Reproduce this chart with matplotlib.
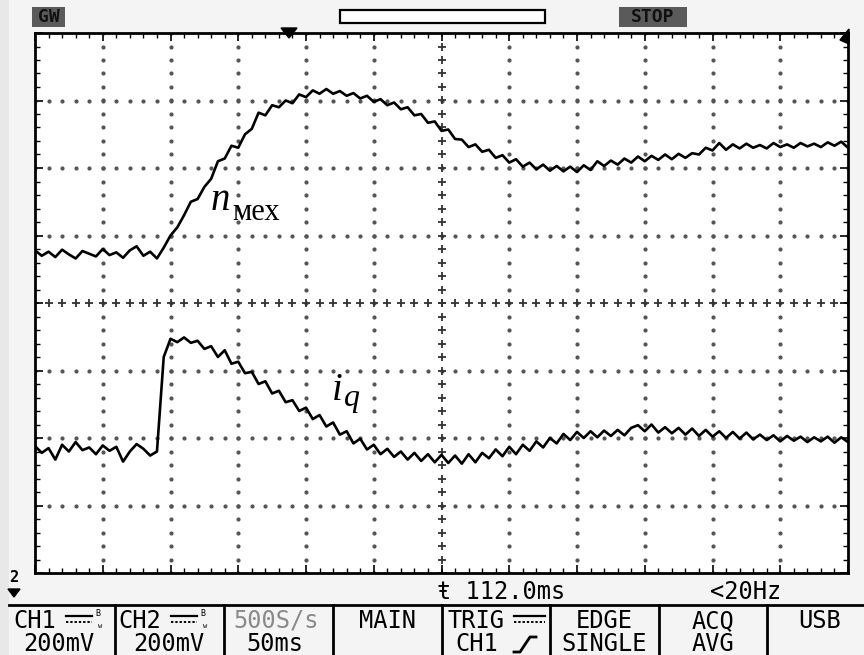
import numpy as np
import matplotlib
matplotlib.use("Agg")
import matplotlib.pyplot as plt
from matplotlib.patches import Rectangle, Polygon

# ---------------- data (divisions, 50 ms/div, 200 mV/div) ----------------
TIME_MS = np.arange(0, 605, 5)          # 121 samples, 0..600 ms

n_mex = [0.78, 0.70, 0.76, 0.68, 0.79, 0.72, 0.66, 0.77, 0.73, 0.69,
         0.80, 0.71, 0.75, 0.67, 0.78, 0.84, 0.70, 0.76, 0.66,
         0.82, 1.00, 1.12, 1.30, 1.50, 1.54, 1.72, 1.84, 2.10, 2.14, 2.33,
         2.30, 2.50, 2.58, 2.82, 2.78, 2.93, 2.90, 3.00, 2.96, 3.09,
         3.05, 3.15, 3.10, 3.17, 3.10, 3.14, 3.07, 3.11, 3.03, 3.07,
         2.98, 3.02, 2.93, 2.97, 2.87, 2.90, 2.78, 2.80, 2.67, 2.69,
         2.55, 2.57, 2.43, 2.42, 2.31, 2.35, 2.24, 2.27, 2.15, 2.19,
         2.08, 2.13, 2.02, 2.08, 1.98, 2.05, 1.96, 2.03, 1.95, 2.02,
         1.94, 2.04, 1.97, 2.10, 2.03, 2.11, 2.05, 2.14, 2.08, 2.17,
         2.10, 2.18, 2.12, 2.20, 2.13, 2.21, 2.15, 2.22, 2.20, 2.30,
         2.26, 2.37, 2.27, 2.35, 2.29, 2.36, 2.30, 2.34, 2.29, 2.37,
         2.31, 2.35, 2.30, 2.37, 2.32, 2.36, 2.31, 2.38, 2.33, 2.39,
         2.30]

i_q = [-2.12, -2.22, -2.15, -2.32, -2.10, -2.20, -2.06, -2.18, -2.14, -2.24,
       -2.11, -2.19, -2.13, -2.35, -2.20, -2.09, -2.16, -2.26, -2.20,
       -0.80, -0.53, -0.58, -0.51, -0.59, -0.56, -0.68, -0.64, -0.80, -0.70,
       -0.90, -0.87, -1.04, -1.02, -1.20, -1.16, -1.34, -1.30, -1.47, -1.44,
       -1.60, -1.55, -1.72, -1.66, -1.83, -1.77, -1.95, -1.90, -2.08, -2.01,
       -2.17, -2.10, -2.24, -2.16, -2.28, -2.20, -2.32, -2.22, -2.34, -2.24,
       -2.36, -2.25, -2.37, -2.26, -2.38, -2.24, -2.36, -2.22, -2.30, -2.17,
       -2.27, -2.13, -2.24, -2.10, -2.19, -2.05, -2.14, -2.00, -2.08, -1.94,
       -2.03, -1.91, -2.00, -1.90, -1.99, -1.89, -1.97, -1.88, -1.96, -1.85,
       -1.81, -1.90, -1.80, -1.92, -1.84, -1.93, -1.85, -1.95, -1.86, -1.97,
       -1.88, -1.98, -1.90, -2.00, -1.91, -2.01, -1.92, -2.02, -1.95, -2.03,
       -1.96, -2.05, -1.97, -2.04, -1.98, -2.06, -1.99, -2.05, -1.98, -2.07,
       -1.99, -2.06]

LABEL_N = ("n", "мех")
LABEL_I = ("i", "q")

status_row1 = ["CH1", "CH2", "500S/s", "MAIN", "TRIG", "EDGE", "ACQ", "USB"]
status_row2 = ["200mV", "200mV", "50ms", "", "CH1", "SINGLE", "AVG", ""]
time_text = "ŧ 112.0ms"
freq_text = "<20Hz"

# ---------------- figure ----------------
W, H = 864, 655
fig = plt.figure(figsize=(W / 100, H / 100), dpi=100)
fig.patch.set_facecolor("#f4f4f4")

L, R, T, B = 35, 848, 33, 573
ax = fig.add_axes([L / W, (H - B) / H, (R - L) / W, (B - T) / H])
ax.set_facecolor("white")
ax.set_xlim(0, 600)
ax.set_ylim(-4, 4)

# grid: dotted lines
gx_major = np.arange(50, 600, 50)
gy_major = np.arange(-3, 4, 1)
minor_x = np.arange(0, 600.1, 10)
minor_y = np.arange(-4, 4.01, 0.2)
dot_kw = dict(color="#555555", marker="o", markersize=2.0, linestyle="none", zorder=1)
for gx in gx_major:
    if gx == 300:
        continue
    ax.plot(np.full_like(minor_y, gx), minor_y, **dot_kw)
for gy in gy_major:
    if gy == 0:
        continue
    ax.plot(minor_x, np.full_like(minor_x, gy), **dot_kw)
# center cross lines with + marks
plus_kw = dict(color="#333333", marker="+", markersize=6, markeredgewidth=1.3,
               linestyle="none", zorder=1)
ax.plot(np.full_like(minor_y, 300), minor_y, **plus_kw)
ax.plot(minor_x, np.zeros_like(minor_x), **plus_kw)

# border ticks
ax.set_xticks(np.arange(0, 601, 50))
ax.set_xticks(minor_x, minor=True)
ax.set_yticks(np.arange(-4, 5, 1))
ax.set_yticks(minor_y, minor=True)
ax.tick_params(which="both", direction="in", top=True, right=True,
               labelbottom=False, labelleft=False, color="black")
ax.tick_params(which="major", length=6, width=1.2)
ax.tick_params(which="minor", length=3.5, width=1.0)
for s in ax.spines.values():
    s.set_linewidth(2)

# traces
ax.plot(TIME_MS, n_mex, color="black", lw=1.9, zorder=3)
ax.plot(TIME_MS, i_q, color="black", lw=1.9, zorder=3)

# ---------------- overlay in pixel coordinates ----------------
ov = fig.add_axes([0, 0, 1, 1], zorder=5)
ov.set_xlim(0, W)
ov.set_ylim(H, 0)
ov.axis("off")
ov.patch.set_alpha(0)

# left darker strip of the screen
ov.add_patch(Rectangle((0, 0), 9, H, facecolor="#e8e8e8", edgecolor="none"))

mono = "DejaVu Sans Mono"

# top bar
ov.add_patch(Rectangle((32, 7), 33, 20, facecolor="#5a5a5a", edgecolor="none"))
ov.text(48.5, 17.5, "GW", family=mono, fontsize=13, fontweight="bold",
        color="#111111", ha="center", va="center")
ov.add_patch(Rectangle((619, 7), 68, 20, facecolor="#5a5a5a", edgecolor="none"))
ov.text(653, 17.5, "STOP", family=mono, fontsize=13, fontweight="bold",
        color="#111111", ha="center", va="center")
ov.add_patch(Rectangle((340, 10), 205, 13, facecolor="white", edgecolor="black", lw=1.6))
ov.add_patch(Polygon([[281, 28], [297, 28], [289, 38]], closed=True, color="black"))
ov.add_patch(Polygon([[849, 29], [849, 44], [840, 40]], closed=True, color="black"))

# left ground marker
ov.text(14, 577, "2", family=mono, fontsize=11, fontweight="bold",
        ha="center", va="center", color="black")
ov.add_patch(Polygon([[8, 589], [20, 589], [14, 597]], closed=True, color="black"))

# time / freq line
ov.text(437, 592, time_text, family=mono, fontsize=17, ha="left", va="center", color="black")
ov.text(710, 592, freq_text, family=mono, fontsize=17, ha="left", va="center", color="black")

# status bar
ov.plot([9, W], [605, 605], color="black", lw=2)
for sx in [115, 224, 333, 442, 550, 659, 767]:
    ov.plot([sx, sx], [605, H], color="black", lw=2)

r1, r2 = 621, 644
fs = 17
ov.text(13, r1, status_row1[0], family=mono, fontsize=fs, ha="left", va="center")
ov.text(59, r2, status_row2[0], family=mono, fontsize=fs, ha="center", va="center")
ov.text(118, r1, status_row1[1], family=mono, fontsize=fs, ha="left", va="center")
ov.text(169, r2, status_row2[1], family=mono, fontsize=fs, ha="center", va="center")
ov.text(276, r1, status_row1[2], family=mono, fontsize=fs, ha="center", va="center", color="#8a8a8a")
ov.text(275, r2, status_row2[2], family=mono, fontsize=fs, ha="center", va="center")
ov.text(387, r1, status_row1[3], family=mono, fontsize=fs, ha="center", va="center")
ov.text(447, r1, status_row1[4], family=mono, fontsize=fs, ha="left", va="center")
ov.text(455, r2, status_row2[4], family=mono, fontsize=fs, ha="left", va="center")
ov.text(604, r1, status_row1[5], family=mono, fontsize=fs, ha="center", va="center")
ov.text(604, r2, status_row2[5], family=mono, fontsize=fs, ha="center", va="center")
ov.text(713, r1, status_row1[6], family=mono, fontsize=fs, ha="center", va="center")
ov.text(713, r2, status_row2[6], family=mono, fontsize=fs, ha="center", va="center")
ov.text(820, r1, status_row1[7], family=mono, fontsize=fs, ha="center", va="center")

# DC coupling symbols and B/W marks
for x0 in (66, 171):
    ov.plot([x0, x0 + 26], [616, 616], color="black", lw=1.6)
    ov.plot([x0, x0 + 26], [622, 622], color="black", lw=1.4, ls=(0, (1.2, 1.0)))
    ov.text(x0 + 32, 614, "B", family=mono, fontsize=6, ha="center", va="center")
    ov.text(x0 + 34, 626, "w", family=mono, fontsize=5, ha="center", va="center")
ov.plot([514, 545], [616, 616], color="black", lw=1.6)
ov.plot([514, 545], [622, 622], color="black", lw=1.4, ls=(0, (1.2, 1.0)))
# rising-edge symbol
ov.plot([514, 520, 530, 536], [652, 652, 637, 637], color="black", lw=2)

# trace labels
serif = "Liberation Serif"
ov.text(211, 210, LABEL_N[0], family=serif, style="italic", fontsize=28,
        ha="left", va="baseline", color="black")
ov.text(232, 220, LABEL_N[1], family=serif, fontsize=22,
        ha="left", va="baseline", color="black")
ov.text(332, 400, LABEL_I[0], family=serif, style="italic", fontsize=28,
        ha="left", va="baseline", color="black")
ov.text(344, 406, LABEL_I[1], family=serif, style="italic", fontsize=23,
        ha="left", va="baseline", color="black")

fig.savefig("out.png", dpi=100, facecolor=fig.get_facecolor())
